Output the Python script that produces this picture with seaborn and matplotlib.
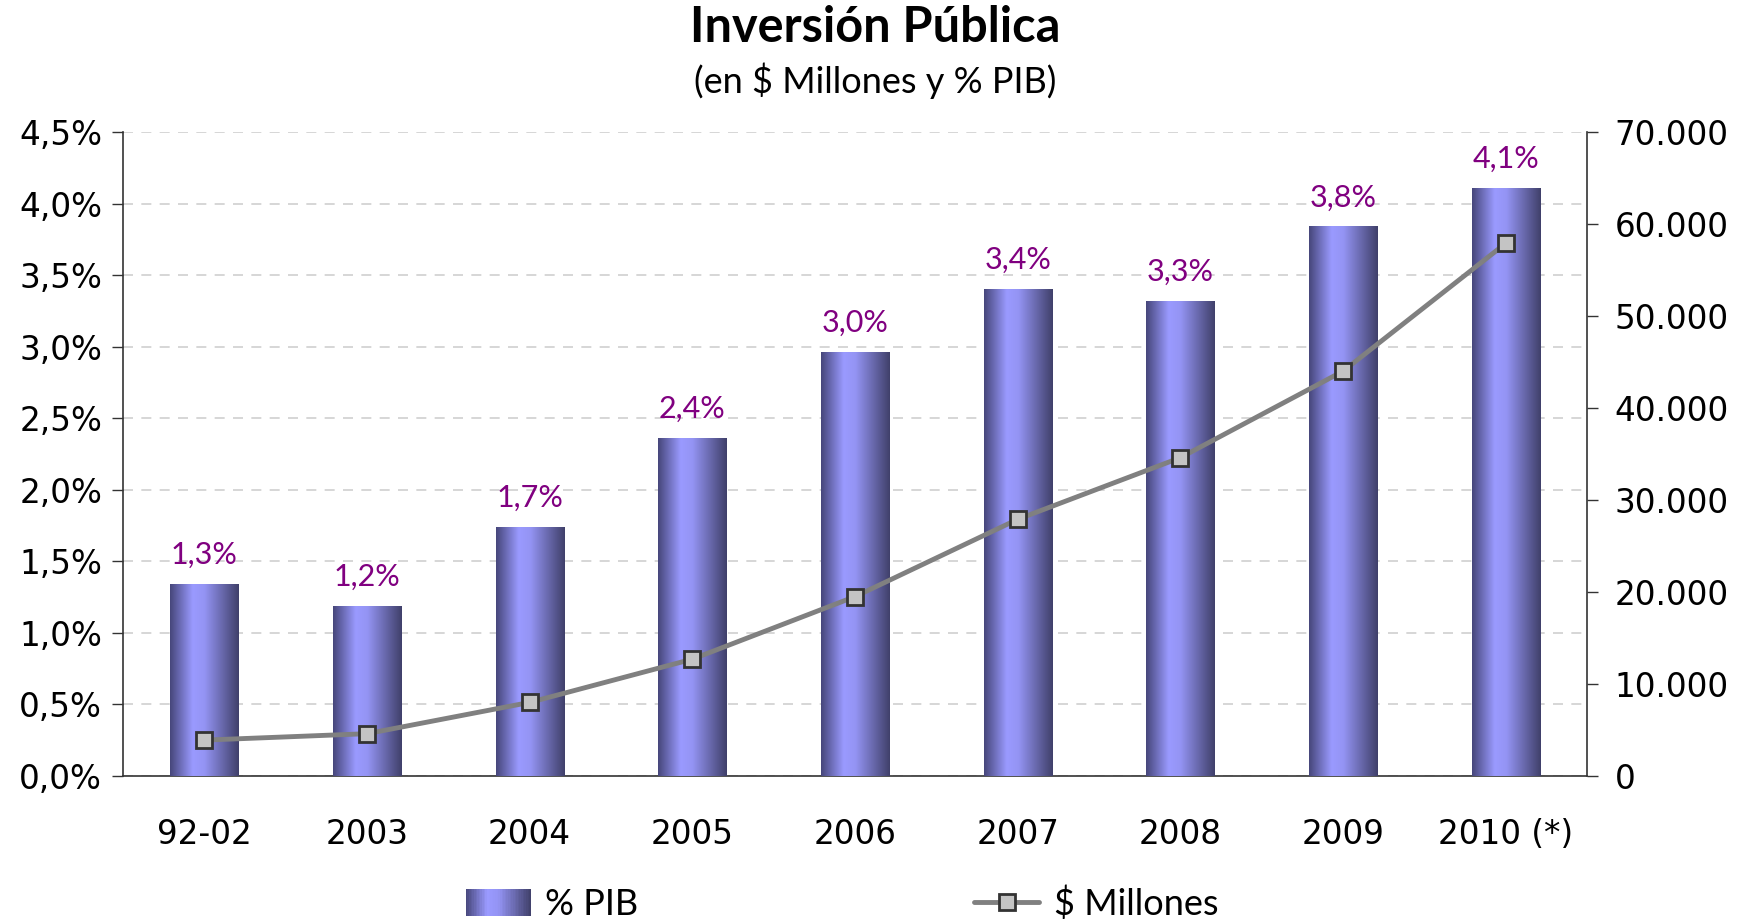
import numpy as np
import pandas as pd
import matplotlib
matplotlib.use("Agg")
import matplotlib.pyplot as plt
import seaborn as sns
from matplotlib.colors import LinearSegmentedColormap
from matplotlib.patches import Rectangle, Patch
from matplotlib.lines import Line2D
from matplotlib.legend_handler import HandlerBase
from matplotlib.ticker import FuncFormatter, MultipleLocator, FixedLocator

# Datos
categorias = ["92-02", "2003", "2004", "2005", "2006", "2007", "2008", "2009", "2010 (*)"]
pct_pib = [1.34, 1.19, 1.74, 2.36, 2.96, 3.40, 3.32, 3.84, 4.11]
millones = [3900, 4600, 8000, 12700, 19500, 27900, 34600, 44000, 57900]

df = pd.DataFrame({"categoria": categorias, "pib": pct_pib, "millones": millones})

sns.set_style("white")
plt.rcParams["font.family"] = ["DejaVu Sans"]
plt.rcParams["text.color"] = "black"
plt.rcParams["xtick.labelcolor"] = "black"
plt.rcParams["ytick.labelcolor"] = "black"

# degradado de las barras (bordes oscuros, centro claro)
grad_cmap = LinearSegmentedColormap.from_list(
    "barras", [(0.0, "#46467a"), (0.33, "#9a9aff"), (0.5, "#9494f4"), (1.0, "#40406a")])

fig = plt.figure(figsize=(17.5, 9.21), dpi=100)
ax = fig.add_axes([123 / 1750, 1 - 776 / 921, (1587 - 123) / 1750, (776 - 132) / 921])

sns.barplot(data=df, x="categoria", y="pib", ax=ax, width=0.42, color="#8080d0",
            saturation=1, edgecolor="none", zorder=2)

grad = np.linspace(0, 1, 256).reshape(1, -1)
for p in ax.patches:
    x0, y0 = p.get_x(), p.get_y()
    w, h = p.get_width(), p.get_height()
    im = ax.imshow(grad, cmap=grad_cmap, extent=[x0, x0 + w, y0, y0 + h],
                   aspect="auto", zorder=3, interpolation="bilinear")
    im.set_clip_path(p)

for i, v in enumerate(df["pib"]):
    ax.annotate(f"{v:.1f}".replace(".", ",") + "%", (i, v), xytext=(0, 21),
                textcoords="offset points", ha="center", va="center",
                fontsize=22, color="#800080", family="Lato")

ax.set_xlim(-0.5, 8.5)
ax.set_ylim(0, 4.5)
ax.set_xlabel("")
ax.set_ylabel("")
ax.yaxis.set_major_locator(MultipleLocator(0.5))
ax.yaxis.set_major_formatter(FuncFormatter(lambda v, _: f"{v:.1f}".replace(".", ",") + "%"))
ax.set_axisbelow(True)
ax.yaxis.grid(True, color="#cfcfcf", linestyle=(0, (6, 5)), linewidth=1.2)
ax.set_xticks(range(len(categorias)))
ax.set_xticklabels(categorias)
ax.xaxis.set_minor_locator(FixedLocator(np.arange(-0.5, 9, 1)))
ax.tick_params(axis="x", which="major", length=0, pad=30, labelsize=23.5, labelcolor="black")
ax.tick_params(axis="x", which="minor", length=8, width=1.2, color="#555555", direction="out")
ax.tick_params(axis="y", which="major", length=8, width=1, color="#333333",
               direction="out", pad=7, labelsize=23.5, left=True, labelcolor="black")
for s in ["left", "bottom"]:
    ax.spines[s].set_color("#333333")
    ax.spines[s].set_linewidth(1.2)
ax.spines["top"].set_visible(False)
ax.spines["right"].set_visible(False)

# eje secundario
ax2 = ax.twinx()
sns.lineplot(x=np.arange(len(categorias)), y=df["millones"], ax=ax2, color="#808080",
             linewidth=3.5, marker="s", markersize=11, markerfacecolor="#c4c4c4",
             markeredgecolor="#333333", markeredgewidth=2)
ax2.set_xlim(-0.5, 8.5)
ax2.set_ylim(0, 70000)
ax2.set_ylabel("")
ax2.yaxis.set_major_locator(MultipleLocator(10000))
ax2.yaxis.set_major_formatter(FuncFormatter(lambda v, _: f"{int(v):,}".replace(",", ".")))
ax2.tick_params(axis="y", length=8, width=1, color="#333333", direction="out",
                pad=12, labelsize=23.5, right=True, labelcolor="black")
ax2.spines["right"].set_color("#333333")
ax2.spines["right"].set_linewidth(1.2)
for s in ["top", "left", "bottom"]:
    ax2.spines[s].set_visible(False)
ax2.grid(False)

# títulos
fig.text(0.5, 1 - 27 / 921, "Inversión Pública", ha="center", va="center",
         fontsize=35, fontweight="bold", family="Lato", color="black")
fig.text(0.5, 1 - 81 / 921, "(en $ Millones y % PIB)", ha="center", va="center",
         fontsize=26, family="Lato", color="black")


class HandlerGradiente(HandlerBase):
    def create_artists(self, legend, orig_handle, xdescent, ydescent, width, height,
                       fontsize, trans):
        n = 40
        arts = []
        for k in range(n):
            r = Rectangle((-xdescent + k * width / n, -ydescent), width / n * 1.05, height,
                          facecolor=grad_cmap((k + 0.5) / n), edgecolor="none",
                          transform=trans)
            arts.append(r)
        return arts


h_bar = Patch(facecolor="#8080d0", label="% PIB")
h_line = Line2D([], [], color="#808080", linewidth=3.5, marker="s", markersize=11,
                markerfacecolor="#c4c4c4", markeredgecolor="#333333",
                markeredgewidth=2, label="$ Millones")
leg = fig.legend(handles=[h_bar, h_line], labels=["% PIB", "$ Millones"],
                 handler_map={Patch: HandlerGradiente()}, loc="center",
                 bbox_to_anchor=(842 / 1750, 1 - 904 / 921), ncol=2, frameon=False,
                 prop={"family": "Lato", "size": 26}, handlelength=1.8,
                 handleheight=0.75, handletextpad=0.4, columnspacing=9.3)
for t in leg.get_texts():
    t.set_color("black")

fig.savefig("out.png", dpi=100)
